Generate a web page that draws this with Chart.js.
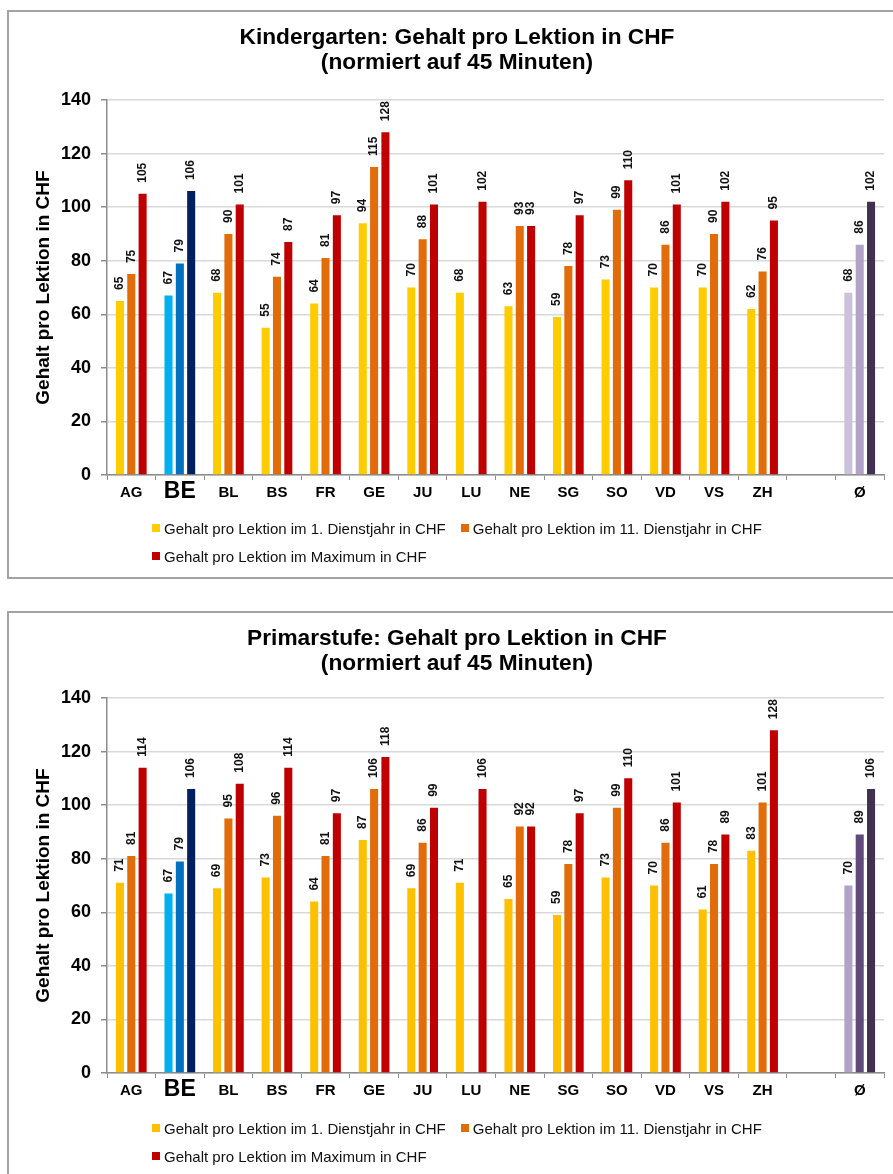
<!DOCTYPE html>
<html lang="de">
<head>
<meta charset="utf-8">
<title>Gehalt pro Lektion in CHF</title>
<script src="https://cdn.jsdelivr.net/npm/chart.js@4.4.1/dist/chart.umd.min.js"></script>
<style>
  html, body { margin: 0; padding: 0; background: #fff; }
  body { position: relative; width: 893px; height: 1174px; overflow: hidden;
         font-family: "Liberation Sans", Arial, sans-serif; }
  .frame { position: absolute; left: 7px; width: 920px; box-sizing: border-box;
           border: 2px solid #a3a3a3; }
  #frame1 { top: 10px; height: 569px; }
  #frame2 { top: 611px; height: 620px; }
  canvas { position: absolute; left: 0; }
  #chart1 { top: 0; }
  #chart2 { top: 598px; }
  .legend { position: absolute; left: 152px; width: 640px; display: flex; flex-wrap: wrap;
            column-gap: 15px; font-size: 15px; color: #111; }
  .legend .item { display: flex; align-items: center; height: 28px; white-space: nowrap; }
  .legend .swatch { width: 8px; height: 8px; margin-right: 4px; flex: none; }
  #legend1 { top: 514px; }
  #legend2 { top: 1114px; }
</style>
</head>
<body>
<div class="frame" id="frame1"></div>
<div class="frame" id="frame2"></div>
<canvas id="chart1" width="893" height="576"></canvas>
<canvas id="chart2" width="893" height="576"></canvas>
<div class="legend" id="legend1"></div>
<div class="legend" id="legend2"></div>

<script>
// Cantons (blank slot separates the Swiss average Ø)
const cantons = ['AG', 'BE', 'BL', 'BS', 'FR', 'GE', 'JU', 'LU', 'NE', 'SG', 'SO', 'VD', 'VS', 'ZH', '', 'Ø'];
const yTickValues = [0, 20, 40, 60, 80, 100, 120, 140];

const seriesNames = [
  'Gehalt pro Lektion im 1. Dienstjahr in CHF',
  'Gehalt pro Lektion im 11. Dienstjahr in CHF',
  'Gehalt pro Lektion im Maximum in CHF'
];

// Kindergarten
const kgTitle = ['Kindergarten: Gehalt pro Lektion in CHF', '(normiert auf 45 Minuten)'];
const kgFirstYear = [65, 67, 68, 55, 64, 94, 70, 68, 63, 59, 73, 70, 70, 62, null, 68];
const kgEleventhYear = [75, 79, 90, 74, 81, 115, 88, null, 93, 78, 99, 86, 90, 76, null, 86];
const kgMaximum = [105, 106, 101, 87, 97, 128, 101, 102, 93, 97, 110, 101, 102, 95, null, 102];

// Primarstufe
const psTitle = ['Primarstufe: Gehalt pro Lektion in CHF', '(normiert auf 45 Minuten)'];
const psFirstYear = [71, 67, 69, 73, 64, 87, 69, 71, 65, 59, 73, 70, 61, 83, null, 70];
const psEleventhYear = [81, 79, 95, 96, 81, 106, 86, null, 92, 78, 99, 86, 78, 101, null, 89];
const psMaximum = [114, 106, 108, 114, 97, 118, 99, 106, 92, 97, 110, 101, 89, 128, null, 106];

const FONT = '"Liberation Sans", Arial, sans-serif';
Chart.defaults.font.family = FONT;
Chart.defaults.color = '#000';

const AXIS_GREY = '#8c8c8c';
const BE_INDEX = 1;
const AVG_INDEX = 15;

// Rotated value labels above each bar
const barValueLabels = {
  id: 'barValueLabels',
  afterDatasetsDraw(chart) {
    const ctx = chart.ctx;
    ctx.save();
    ctx.font = 'bold 12px ' + FONT;
    ctx.fillStyle = '#111';
    ctx.textAlign = 'left';
    ctx.textBaseline = 'middle';
    chart.data.datasets.forEach((ds, di) => {
      const meta = chart.getDatasetMeta(di);
      meta.data.forEach((bar, i) => {
        const v = ds.data[i];
        if (v === null || v === undefined) return;
        ctx.save();
        ctx.translate(bar.x, bar.y - 11);
        ctx.rotate(-Math.PI / 2);
        ctx.fillText(String(v), 0, 0);
        ctx.restore();
      });
    });
    ctx.restore();
  }
};

function buildChart(canvasId, legendId, titleLines, series, palette, titleShift) {
  const datasets = series.map((values, s) => ({
    label: seriesNames[s],
    data: values,
    backgroundColor: cantons.map((_, i) =>
      i === BE_INDEX ? palette.be[s] : i === AVG_INDEX ? palette.avg[s] : palette.base[s]),
    borderWidth: 0,
    categoryPercentage: 0.70,
    barPercentage: 0.71
  }));

  const chart = new Chart(document.getElementById(canvasId), {
    type: 'bar',
    data: { labels: cantons, datasets },
    options: {
      responsive: false,
      animation: false,
      devicePixelRatio: 1,
      layout: { padding: { left: 30, right: 9, top: 0, bottom: 0 } },
      plugins: {
        legend: { display: false },
        tooltip: { enabled: false },
        title: {
          display: true,
          text: titleLines,
          color: '#000',
          font: { size: 22.7, weight: 'bold', lineHeight: 1.1 },
          padding: { top: 25.3 + titleShift, bottom: 24.76 - titleShift }
        }
      },
      scales: {
        x: {
          type: 'category',
          offset: true,
          grid: {
            display: true,
            offset: true,
            drawOnChartArea: false,
            drawTicks: true,
            tickLength: 5,
            color: AXIS_GREY,
            lineWidth: 1
          },
          border: { display: true, color: AXIS_GREY, width: 1.5 },
          ticks: {
            autoSkip: false,
            maxRotation: 0,
            minRotation: 0,
            padding: 3.5,
            crossAlign: 'near',
            color: '#000',
            // Same line box for every label so "BE" stays on the common centre line
            font: (c) => c.index === BE_INDEX
              ? { size: 23, weight: 'bold', lineHeight: '16px' }
              : { size: 15, weight: 'bold', lineHeight: '18px' }
          },
          afterFit: (scale) => { scale.height = 101; }
        },
        y: {
          min: 0,
          max: 140,
          afterBuildTicks: (scale) => { scale.ticks = yTickValues.map(v => ({ value: v })); },
          grid: {
            color: '#d9d9d9',
            lineWidth: 1.5,
            tickColor: AXIS_GREY,
            tickLength: 6,
            drawTicks: true
          },
          border: { display: true, color: AXIS_GREY, width: 1.5 },
          ticks: {
            padding: 10,
            color: '#000',
            font: { size: 18, weight: 'bold' }
          },
          title: {
            display: true,
            text: 'Gehalt pro Lektion in CHF',
            color: '#000',
            font: { size: 19, weight: 'bold' },
            padding: { top: 2, bottom: 0 }
          },
          afterFit: (scale) => { scale.width = 77; }
        }
      }
    },
    plugins: [barValueLabels]
  });

  // Legend built from the chart's own datasets
  const legend = document.getElementById(legendId);
  chart.data.datasets.forEach((ds, s) => {
    const item = document.createElement('div');
    item.className = 'item';
    const sw = document.createElement('span');
    sw.className = 'swatch';
    sw.style.background = palette.base[s];
    const txt = document.createElement('span');
    txt.textContent = ds.label;
    item.appendChild(sw);
    item.appendChild(txt);
    legend.appendChild(item);
  });
  return chart;
}

buildChart('chart1', 'legend1', kgTitle,
  [kgFirstYear, kgEleventhYear, kgMaximum],
  {
    base: ['#FFCC00', '#E36C0A', '#C00000'],
    be: ['#00B0F0', '#0070C0', '#002060'],
    avg: ['#CCC1DA', '#B3A2C7', '#403151']
  }, 0);

buildChart('chart2', 'legend2', psTitle,
  [psFirstYear, psEleventhYear, psMaximum],
  {
    base: ['#FFC000', '#E36C0A', '#C00000'],
    be: ['#00B0F0', '#0070C0', '#002060'],
    avg: ['#B3A2C7', '#604A7B', '#403151']
  }, 3);
</script>
</body>
</html>
